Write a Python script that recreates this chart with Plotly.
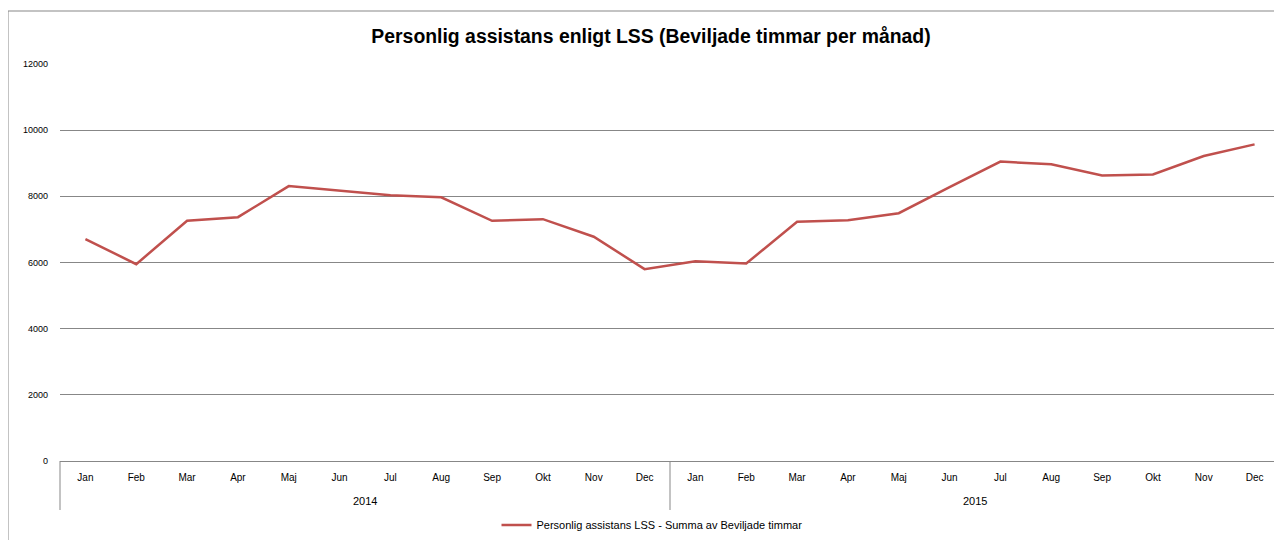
import plotly.graph_objects as go

months = ["Jan", "Feb", "Mar", "Apr", "Maj", "Jun", "Jul", "Aug", "Sep", "Okt", "Nov", "Dec"]
years = ["2014", "2015"]
hours_2014 = [6710, 5950, 7260, 7370, 8310, 8170, 8030, 7970, 7260, 7310, 6780, 5800]
hours_2015 = [6040, 5970, 7230, 7280, 7490, 8280, 9050, 8970, 8630, 8660, 9220, 9570]
yticks = [0, 2000, 4000, 6000, 8000, 10000, 12000]

series_name = "Personlig assistans LSS - Summa av Beviljade timmar"
title_text = "Personlig assistans enligt LSS (Beviljade timmar per månad)"

# the page body adds an 8px offset, so the figure is 8px smaller than the window
W, H = 1274, 532
PL, PR, PT, PB = 52, 2, 56, 79          # plot area margins
plot_w = W - PL - PR
plot_h = H - PT - PB

values = hours_2014 + hours_2015
x_month = months + months
x_pos = list(range(len(values)))
n_cat = len(values)

fig = go.Figure()
fig.add_trace(go.Scatter(
    x=x_pos,
    y=values,
    mode="lines",
    name=series_name,
    line=dict(color="#C0504D", width=2.5),
    customdata=[[y, m] for y in years for m in months],
    hovertemplate="%{customdata[1]} %{customdata[0]}: %{y}<extra></extra>",
))

fig.update_layout(
    width=W,
    height=H,
    margin=dict(l=PL, r=PR, t=PT, b=PB, autoexpand=False),
    paper_bgcolor="white",
    plot_bgcolor="white",
    font=dict(family="Liberation Sans, Arial, sans-serif", size=10, color="black"),
    title=dict(
        text="<b>" + title_text + "</b>",
        x=643 / W, xref="container", xanchor="center",
        y=1 - 28 / H, yref="container", yanchor="middle",
        font=dict(size=19.4, family="Liberation Sans, Arial, sans-serif", color="black"),
    ),
    showlegend=True,
    legend=dict(
        orientation="h", x=(644 - PL) / plot_w, xanchor="center",
        y=-64 / plot_h, yanchor="middle",
        font=dict(size=11),
        bgcolor="rgba(0,0,0,0)",
    ),
    xaxis=dict(
        range=[-0.5, n_cat - 0.5],
        tickvals=x_pos,
        ticktext=x_month,
        showline=True, linecolor="#878787", linewidth=1,
        showgrid=False,
        zeroline=False,
        tickfont=dict(size=10),
        ticks="",
        ticklabelstandoff=7,
    ),
    yaxis=dict(
        range=[0, 12000],
        tickvals=yticks,
        ticktext=[str(v) for v in yticks],
        showgrid=True, gridcolor="#878787", gridwidth=1,
        zeroline=False,
        showline=False,
        tickfont=dict(size=9),
        ticks="",
        ticklabelstandoff=11,
    ),
)

# year group labels (second category level)
for i, yr in enumerate(years):
    idx = [k for k in x_pos if k // len(months) == i]
    fig.add_annotation(
        x=sum(idx) / len(idx), xref="x",
        y=-40 / plot_h, yref="paper",
        text=yr, showarrow=False,
        xanchor="center", yanchor="middle",
        font=dict(size=11, color="black"),
    )

# outer chart frame
fig.add_shape(
    type="rect", xref="paper", yref="paper",
    x0=-PL / plot_w, x1=1.02, y0=-0.3, y1=1 + (PT - 3) / plot_h,
    line=dict(color="#878787", width=1),
    fillcolor="rgba(0,0,0,0)", layer="below",
)
# category group dividers (left edge, year boundary, right edge)
for xp in [0, 0.5, 1]:
    fig.add_shape(
        type="line", xref="paper", yref="paper",
        x0=xp, x1=xp, y0=0, y1=-49 / plot_h,
        line=dict(color="#878787", width=1),
    )

fig.write_html("out.html")
